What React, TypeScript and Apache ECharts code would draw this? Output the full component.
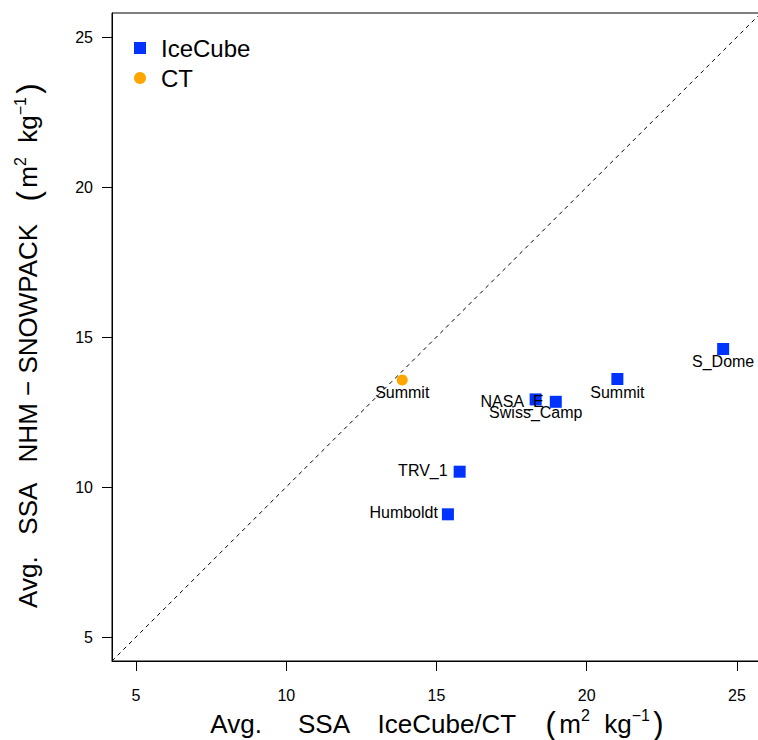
import React, { useEffect, useRef } from "react";
import * as echarts from "echarts";

const iceCubeSites = ["S_Dome", "Summit", "NASA_E", "Swiss_Camp", "TRV_1", "Humboldt"];
const iceCubeX = [24.54, 21.02, 18.3, 18.97, 15.77, 15.38];
const iceCubeY = [14.6, 13.6, 12.92, 12.84, 10.51, 9.09];

const ctSites = ["Summit"];
const ctX = [13.86];
const ctY = [13.57];

const axisTicks = [5, 10, 15, 20, 25];
const axisMin = 4.2;
const axisMax = 25.8;

const FONT = "'Liberation Sans', Arial, Helvetica, sans-serif";

// label placement per site (style only)
const labelPlacement: Record<string, any> = {
  S_Dome: { position: "bottom", distance: -2, offset: [0, 0] },
  Summit: { position: "bottom", distance: -1, offset: [0, 0] },
  NASA_E: { position: "left", distance: -14, offset: [0, 2] },
  Swiss_Camp: { position: "bottom", distance: -3, offset: [-20, 0] },
  TRV_1: { position: "left", distance: 6, offset: [0, -1] },
  Humboldt: { position: "left", distance: 4, offset: [0, -2] },
};

const unitsRich = "{p|(} {a|m}{s|2}{a|  kg}{s|−1} {p|)}";

export default function App() {
  const ref = useRef<HTMLDivElement>(null);
  useEffect(() => {
    document.body.style.margin = "0";
    const chart = echarts.init(ref.current!, null, { renderer: "svg" });
    const labelStyle = { show: true, fontSize: 16, color: "#000", fontFamily: FONT, formatter: "{b}" };
    const iceData = iceCubeSites.map((s, i) => ({
      name: s,
      value: [iceCubeX[i], iceCubeY[i]],
      label: { ...labelStyle, ...labelPlacement[s] },
    }));
    const ctData = ctSites.map((s, i) => ({
      name: s,
      value: [ctX[i], ctY[i]],
      label: { ...labelStyle, ...labelPlacement[s] },
    }));
    const rich = {
      a: { fontSize: 26, lineHeight: 32, fontFamily: FONT, color: "#000" },
      s: { fontSize: 16, verticalAlign: "top" as const, lineHeight: 16, fontFamily: FONT, color: "#000" },
      p: { fontSize: 31, lineHeight: 32, fontFamily: FONT, color: "#000" },
    };
    const axisCommon = (name: string) => ({
      type: "value",
      min: axisMin,
      max: axisMax,
      name,
      nameLocation: "middle",
      axisLine: { show: true, onZero: false, lineStyle: { color: "#000", width: 1 } },
      axisTick: { show: true, customValues: axisTicks, length: 10, lineStyle: { color: "#000", width: 1 } },
      splitLine: { show: false },
    });
    chart.setOption({
      animation: false,
      backgroundColor: "#fff",
      grid: {
        left: 112,
        top: 13,
        width: 649,
        height: 648,
        show: true,
        borderColor: "#000",
        borderWidth: 1,
        containLabel: false,
        outerBoundsMode: "none",
      },
      legend: {
        orient: "vertical",
        left: 129,
        top: 28,
        itemWidth: 12,
        itemHeight: 12,
        itemGap: 0,
        data: [
          { name: "IceCube", icon: "rect" },
          { name: "CT", icon: "circle" },
        ],
        textStyle: { fontSize: 24, lineHeight: 30, color: "#000", fontFamily: FONT, padding: [0, 0, 0, 10] },
      },
      xAxis: {
        ...axisCommon("{a|Avg.     SSA    IceCube/CT    }" + unitsRich),
        nameGap: 44,
        nameTextStyle: { rich },
        axisLabel: { customValues: axisTicks, fontSize: 16, color: "#000", fontFamily: FONT, margin: 26 },
      },
      yAxis: {
        ...axisCommon("{a|Avg.   SSA   NHM − SNOWPACK   }" + unitsRich),
        nameGap: 68,
        nameRotate: 90,
        nameTextStyle: { rich, padding: [0, 18, 0, 0] },
        axisLabel: { customValues: axisTicks, fontSize: 16, color: "#000", fontFamily: FONT, margin: 19 },
      },
      series: [
        {
          name: "1:1",
          type: "line",
          data: [
            [axisMin, axisMin],
            [axisMax, axisMax],
          ],
          symbol: "none",
          silent: true,
          lineStyle: { color: "#000", width: 1, type: [4, 4] },
          z: 1,
        },
        {
          name: "IceCube",
          type: "scatter",
          symbol: "rect",
          symbolSize: 12,
          itemStyle: { color: "#0033FF", opacity: 1 },
          data: iceData,
          z: 3,
        },
        {
          name: "CT",
          type: "scatter",
          symbol: "circle",
          symbolSize: 11,
          itemStyle: { color: "#FFA500", opacity: 1 },
          data: ctData,
          z: 3,
        },
      ],
    });
    return () => chart.dispose();
  }, []);
  return <div ref={ref} style={{ width: 758, height: 740 }} />;
}
